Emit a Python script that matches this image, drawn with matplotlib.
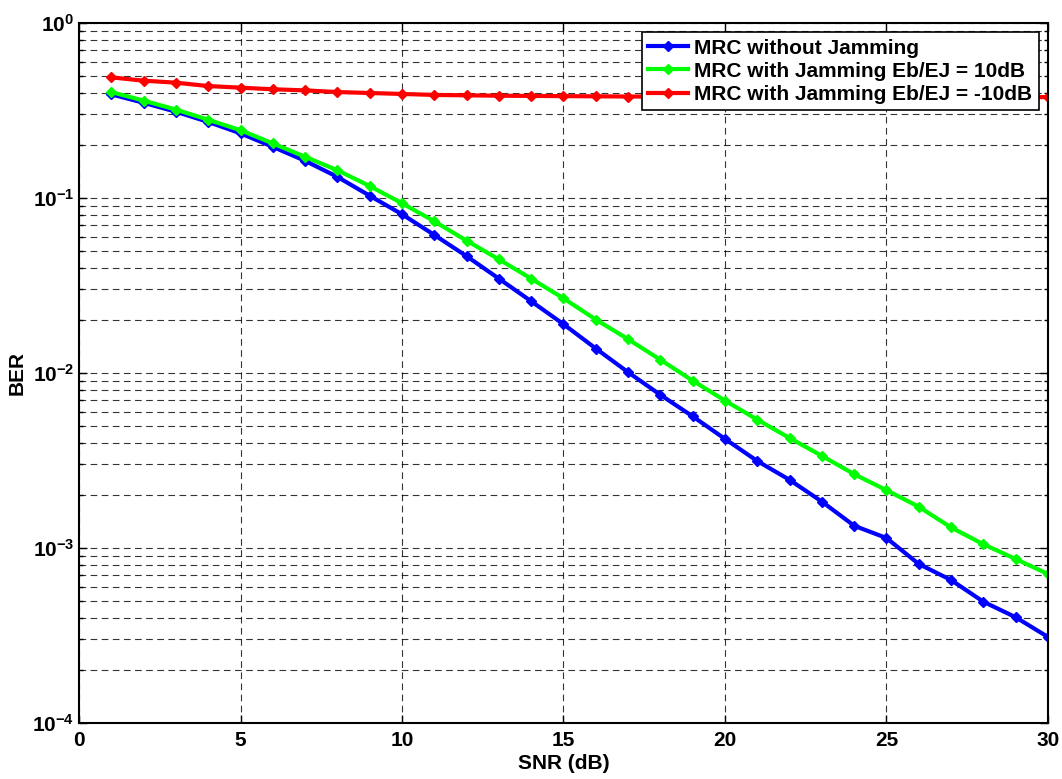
import numpy as np
import matplotlib
matplotlib.use("Agg")
import matplotlib.pyplot as plt
from matplotlib.ticker import LogLocator, NullFormatter, LogFormatterSciNotation

# --- data ---
snr_db = list(range(1, 31))

ber_no_jam = [0.391, 0.350, 0.311, 0.272, 0.234, 0.196, 0.163, 0.132, 0.103, 0.0807,
              0.0615, 0.0465, 0.0346, 0.0257, 0.0190, 0.0138, 0.0101, 0.0075, 0.00565, 0.0042,
              0.00314, 0.00245, 0.00184, 0.00134, 0.00114, 0.00081, 0.000656, 0.000493, 0.000402, 0.00031]

ber_jam_10 = [0.403, 0.360, 0.320, 0.280, 0.244, 0.205, 0.172, 0.144, 0.117, 0.0933,
              0.0736, 0.0570, 0.0446, 0.0346, 0.0267, 0.0202, 0.0156, 0.0119, 0.00904, 0.00695,
              0.00541, 0.00425, 0.00336, 0.00264, 0.00214, 0.00172, 0.00131, 0.00105, 0.000865, 0.00071]

ber_jam_m10 = [0.489, 0.468, 0.456, 0.436, 0.427, 0.418, 0.412, 0.403, 0.398, 0.393,
               0.388, 0.386, 0.384, 0.383, 0.382, 0.381, 0.380, 0.380, 0.379, 0.379,
               0.379, 0.378, 0.378, 0.378, 0.378, 0.378, 0.378, 0.377, 0.377, 0.377]

labels = ["MRC without Jamming",
          "MRC with Jamming Eb/EJ = 10dB",
          "MRC with Jamming Eb/EJ = -10dB"]

plt.rcParams["font.family"] = ["Liberation Sans", "DejaVu Sans"]
plt.rcParams["font.weight"] = "bold"
plt.rcParams["mathtext.fontset"] = "custom"
plt.rcParams["mathtext.rm"] = "Liberation Sans:bold"
plt.rcParams["mathtext.bf"] = "Liberation Sans:bold"
plt.rcParams["mathtext.default"] = "bf"

fig = plt.figure(figsize=(10.62, 7.79), dpi=100)
ax = fig.add_axes([0.0744, 0.0719, 0.9124, 0.8986])

ax.semilogy(snr_db, ber_no_jam, "-D", color="#0000ff", lw=3, ms=5, label=labels[0])
ax.semilogy(snr_db, ber_jam_10, "-D", color="#00ff00", lw=3, ms=5, label=labels[1])
ax.semilogy(snr_db, ber_jam_m10, "-D", color="#ff0000", lw=3, ms=5, label=labels[2])

ax.set_xlim(0, 30)
ax.set_ylim(1e-4, 1)
ax.set_xticks(range(0, 31, 5))
ax.yaxis.set_major_locator(LogLocator(base=10, numticks=10))
ax.yaxis.set_major_formatter(LogFormatterSciNotation())
ax.yaxis.set_minor_locator(LogLocator(base=10, subs=np.arange(2, 10), numticks=50))
ax.yaxis.set_minor_formatter(NullFormatter())

dash = (0, (6, 4))
ax.grid(True, which="major", axis="both", color="black", ls=dash, lw=0.8, alpha=0.8)
ax.grid(True, which="minor", axis="y", color="black", ls=dash, lw=0.8, alpha=0.8)

ax.tick_params(which="both", direction="in", top=True, right=True, labelsize=15)
ax.tick_params(axis="x", pad=6)
ax.tick_params(which="major", length=6, width=1)
ax.tick_params(which="minor", length=3, width=1)
for sp in ax.spines.values():
    sp.set_linewidth(1.5)

ax.set_xlabel("SNR (dB)", fontsize=15, fontweight="bold", labelpad=3)
ax.set_ylabel("BER", fontsize=15, fontweight="bold", labelpad=4)

leg = ax.legend(loc="upper right", frameon=True, fancybox=False,
                framealpha=1, edgecolor="black", borderpad=0.3, labelspacing=0.2,
                handlelength=1.9, handletextpad=0.3, borderaxespad=0.45,
                prop={"weight": "bold", "size": 15})
leg.get_frame().set_linewidth(1.2)

fig.savefig("out.png", dpi=100)
